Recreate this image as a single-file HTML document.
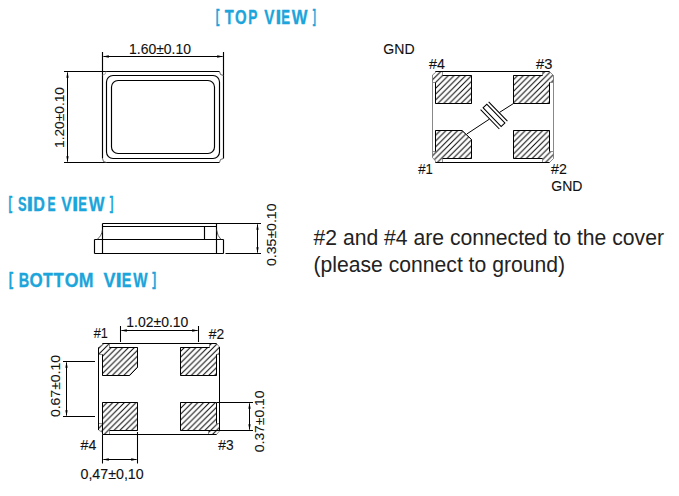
<!DOCTYPE html>
<html><head><meta charset="utf-8">
<style>
html,body{margin:0;padding:0;background:#fff;width:679px;height:496px;overflow:hidden}
svg{display:block}
text{font-family:"Liberation Sans",sans-serif;fill:#111;stroke:#111;stroke-width:0.1}
.n{stroke-width:0;fill:#222}
.t{font-weight:bold;fill:#1ca5db;stroke:#1ca5db;stroke-width:0.3;vector-effect:non-scaling-stroke}
</style></head><body>
<svg width="679" height="496" viewBox="0 0 679 496">
<defs>
<pattern id="hg4" patternUnits="userSpaceOnUse" x="1.9" y="0" width="5.8" height="5.8"><rect width="5.8" height="5.8" fill="#fff"/><path d="M-1,6.8 L6.8,-1 M-1,1 L1,-1 M4.8,6.8 L6.8,4.8" stroke="#000" stroke-width="1"/></pattern>
<pattern id="hg3" patternUnits="userSpaceOnUse" x="1.55" y="0" width="5.8" height="5.8"><rect width="5.8" height="5.8" fill="#fff"/><path d="M-1,6.8 L6.8,-1 M-1,1 L1,-1 M4.8,6.8 L6.8,4.8" stroke="#000" stroke-width="1"/></pattern>
<pattern id="hg1" patternUnits="userSpaceOnUse" x="2.45" y="0" width="5.8" height="5.8"><rect width="5.8" height="5.8" fill="#fff"/><path d="M-1,6.8 L6.8,-1 M-1,1 L1,-1 M4.8,6.8 L6.8,4.8" stroke="#000" stroke-width="1"/></pattern>
<pattern id="hg2" patternUnits="userSpaceOnUse" x="0.4" y="0" width="5.8" height="5.8"><rect width="5.8" height="5.8" fill="#fff"/><path d="M-1,6.8 L6.8,-1 M-1,1 L1,-1 M4.8,6.8 L6.8,4.8" stroke="#000" stroke-width="1"/></pattern>
<pattern id="hb1" patternUnits="userSpaceOnUse" x="0.5" y="0" width="5.8" height="5.8"><rect width="5.8" height="5.8" fill="#fff"/><path d="M-1,6.8 L6.8,-1 M-1,1 L1,-1 M4.8,6.8 L6.8,4.8" stroke="#000" stroke-width="1"/></pattern>
<pattern id="hb2" patternUnits="userSpaceOnUse" x="4.1" y="0" width="5.8" height="5.8"><rect width="5.8" height="5.8" fill="#fff"/><path d="M-1,6.8 L6.8,-1 M-1,1 L1,-1 M4.8,6.8 L6.8,4.8" stroke="#000" stroke-width="1"/></pattern>
<pattern id="hb4" patternUnits="userSpaceOnUse" x="5.05" y="0" width="5.8" height="5.8"><rect width="5.8" height="5.8" fill="#fff"/><path d="M-1,6.8 L6.8,-1 M-1,1 L1,-1 M4.8,6.8 L6.8,4.8" stroke="#000" stroke-width="1"/></pattern>
<pattern id="hb3" patternUnits="userSpaceOnUse" x="3.1" y="0" width="5.8" height="5.8"><rect width="5.8" height="5.8" fill="#fff"/><path d="M-1,6.8 L6.8,-1 M-1,1 L1,-1 M4.8,6.8 L6.8,4.8" stroke="#000" stroke-width="1"/></pattern>
</defs>
<!-- Titles -->
<text class="t" font-size="20.5" transform="translate(215.68,22.41) scale(0.535,0.879)">[</text>
<text class="t" font-size="20.5" transform="translate(224.73,23.6) scale(0.721,1)">T</text>
<text class="t" font-size="20.5" transform="translate(234.89,23.6) scale(0.730,1)">O</text>
<text class="t" font-size="20.5" transform="translate(248.28,23.6) scale(0.672,1)">P</text>
<text class="t" font-size="20.5" transform="translate(264.20,23.6) scale(0.747,1)">V</text>
<text class="t" font-size="20.5" transform="translate(275.61,23.6) scale(1.016,1)">I</text>
<text class="t" font-size="20.5" transform="translate(281.22,23.6) scale(0.643,1)">E</text>
<text class="t" font-size="20.5" transform="translate(291.68,23.6) scale(0.813,1)">W</text>
<text class="t" font-size="20.5" transform="translate(312.78,22.41) scale(0.461,0.879)">]</text>
<text class="t" font-size="20.5" transform="translate(8.58,209.09) scale(0.535,0.884)">[</text>
<text class="t" font-size="20.5" transform="translate(18.03,210.5) scale(0.627,1)">S</text>
<text class="t" font-size="20.5" transform="translate(26.57,210.5) scale(1.185,1)">I</text>
<text class="t" font-size="20.5" transform="translate(33.32,210.5) scale(0.787,1)">D</text>
<text class="t" font-size="20.5" transform="translate(47.39,210.5) scale(0.591,1)">E</text>
<text class="t" font-size="20.5" transform="translate(61.29,210.5) scale(0.777,1)">V</text>
<text class="t" font-size="20.5" transform="translate(72.07,210.5) scale(1.118,1)">I</text>
<text class="t" font-size="20.5" transform="translate(78.23,210.5) scale(0.635,1)">E</text>
<text class="t" font-size="20.5" transform="translate(88.78,210.5) scale(0.813,1)">W</text>
<text class="t" font-size="20.5" transform="translate(109.87,209.09) scale(0.535,0.884)">]</text>
<text class="t" font-size="20.5" transform="translate(8.86,285.25) scale(0.645,0.869)">[</text>
<text class="t" font-size="20.5" transform="translate(18.63,287.0) scale(0.704,1)">B</text>
<text class="t" font-size="20.5" transform="translate(29.50,287.0) scale(0.828,1)">O</text>
<text class="t" font-size="20.5" transform="translate(43.02,287.0) scale(0.779,1)">T</text>
<text class="t" font-size="20.5" transform="translate(53.61,287.0) scale(0.828,1)">T</text>
<text class="t" font-size="20.5" transform="translate(64.87,287.0) scale(0.864,1)">O</text>
<text class="t" font-size="20.5" transform="translate(78.81,287.0) scale(0.865,1)">M</text>
<text class="t" font-size="20.5" transform="translate(103.38,287.0) scale(0.881,1)">V</text>
<text class="t" font-size="20.5" transform="translate(115.47,287.0) scale(1.118,1)">I</text>
<text class="t" font-size="20.5" transform="translate(121.73,287.0) scale(0.704,1)">E</text>
<text class="t" font-size="20.5" transform="translate(133.19,287.0) scale(0.741,1)">W</text>
<text class="t" font-size="20.5" transform="translate(152.26,285.25) scale(0.571,0.869)">]</text>

<g fill="none" stroke="#000" stroke-width="1.15">
<path d="M64,71.5 H219.5 M223.5,52 V158.5 M64,162.5 H219.5 M102.5,52 V158.5"/>
<path d="M219.5,71.5 A4,4 0 0 0 223.5,75.5 M223.5,158.5 A4,4 0 0 0 219.5,162.5 M102.5,158.5 A4,4 0 0 0 106.5,162.5" stroke="#555" stroke-width="0.9"/>
<path d="M106,71.5 A3.5,3.5 0 0 1 102.5,75" stroke="#999" stroke-width="0.8"/>
<rect x="106.5" y="75.5" width="113" height="83" rx="6.5" ry="6.5"/>
<rect x="111.5" y="80.5" width="103" height="73" rx="6.6" ry="6.6"/>
</g>
<path d="M103.5,56.5 H222.5" stroke="#000" stroke-width="1.05" fill="none"/>
<path d="M102.80,56.50 L108.80,55.35 L108.80,57.65z" fill="#000"/>
<path d="M223.20,56.50 L217.20,57.65 L217.20,55.35z" fill="#000"/>
<path d="M67.5,72.5 V161.5" stroke="#000" stroke-width="1.05" fill="none"/>
<path d="M67.50,71.80 L68.65,77.80 L66.35,77.80z" fill="#000"/>
<path d="M67.50,162.20 L66.35,156.20 L68.65,156.20z" fill="#000"/>
<g stroke="#000" stroke-width="1.0" stroke-linejoin="miter">
<path d="M432.5,75 V157.5 M553.5,75.5 V158.5" fill="none" stroke="#888" stroke-width="1"/>
<polygon points="435.5,103.5 435.5,82.5 432.5,82.5 432.5,75 435.5,72.5 435.5,71.5 442.5,71.5 442.5,75.5 471.5,75.5 471.5,103.5" fill="url(#hg4)" stroke="#777" stroke-width="0.8"/>
<polygon points="513.5,75.5 542.5,75.5 542.5,71.5 549.5,71.5 553.5,75.5 553.5,82.5 549.5,82.5 549.5,103.5 513.5,103.5" fill="url(#hg3)" stroke="#777" stroke-width="0.8"/>
<polygon points="435.5,130.5 462,130.5 471.5,139.5 471.5,158.5 442.5,158.5 442.5,162.5 435.5,162.5 435.5,161 432.5,157.5 432.5,151.5 435.5,151.5" fill="url(#hg1)" stroke="#777" stroke-width="0.8"/>
<polygon points="513.5,130.5 549.5,130.5 549.5,151.5 553.5,151.5 553.5,158.5 549.5,162.5 542.5,162.5 542.5,158.5 513.5,158.5" fill="url(#hg2)" stroke="#777" stroke-width="0.8"/>
<path d="M435.5,71.5 H549.5 M435.5,162.5 H549.5 M435.5,82.5 V103.5 H471.5 V75.5 H442.5 M542.5,75.5 H513.5 V103.5 H549.5 V82.5 M435.5,151.5 V130.5 H462 L471.5,139.5 V158.5 H442.5 M549.5,151.5 V130.5 H513.5 V158.5 H542.5" fill="none"/>
<path d="M513.5,103.5 L499.5,112.4 M489.3,119.2 L466.8,134" fill="none" stroke-width="1"/>
<g transform="translate(494,115.4) rotate(46)" fill="none" stroke-width="1.05">
<rect x="-13" y="-2.6" width="26" height="5.2" fill="#fff"/>
<path d="M-13.5,-5.6 H13.5 M-13.5,5.6 H13.5"/>
</g>
</g>
<g fill="none" stroke="#000" stroke-width="1.15">
<path d="M102.5,223.5 H261 M102.5,226.5 H216.5 M94.5,239.5 H223.5 M94.5,253.5 H223.5 M225.5,253.5 H261"/>
<path d="M94.5,239.5 V253.5 M102.5,223.5 V253.5 M204.5,226.5 V239.5 M216.5,223.5 V253.5 M223.5,239.5 V253.5"/>
<path d="M97,239.5 Q101.8,236 102.5,229.5 M216.5,229.5 Q217.3,236 221,239.5" stroke="#333" stroke-width="0.8"/>
</g>
<path d="M257.5,224.5 V252.5" stroke="#000" stroke-width="1.05" fill="none"/>
<path d="M257.50,223.80 L258.65,229.80 L256.35,229.80z" fill="#000"/>
<path d="M257.50,253.20 L256.35,247.20 L258.65,247.20z" fill="#000"/>
<g stroke="#000" stroke-width="1.0">
<polygon points="102.5,375.5 102.5,354.5 98.5,354.5 98.5,347.5 102.5,344.5 102.5,343.5 109.5,343.5 109.5,347.5 137.5,347.5 137.5,367.3 129.6,375.5" fill="url(#hb1)" stroke="#777" stroke-width="0.8"/>
<polygon points="180.5,347.5 209.5,347.5 209.5,343.5 216.5,343.5 219.5,347 219.5,354.5 216.5,354.5 216.5,375.5 180.5,375.5" fill="url(#hb2)" stroke="#777" stroke-width="0.8"/>
<polygon points="102.5,402.5 137.5,402.5 137.5,430.5 109.5,430.5 109.5,434.5 102.5,434.5 102.5,432.5 98.5,430 98.5,423.5 102.5,423.5" fill="url(#hb4)" stroke="#777" stroke-width="0.8"/>
<polygon points="180.5,402.5 216.5,402.5 216.5,423.5 219.5,423.5 219.5,431 216.5,434.5 208.5,434.5 208.5,430.5 180.5,430.5" fill="url(#hb3)" stroke="#777" stroke-width="0.8"/>
<path d="M102.5,343.5 H216.5 M102.5,434.5 H216.5 M98.5,347.5 V430 M219.5,347 V431 M102.5,354.5 V375.5 H129.6 L137.5,367.3 V347.5 H109.5 M209.5,347.5 H180.5 V375.5 H216.5 V354.5 M102.5,402.5 V434.5 M102.5,402.5 H137.5 V430.5 H109.5 M216.5,423.5 V402.5 H180.5 V430.5 H219.5" fill="none"/>
</g>
<g fill="none" stroke="#000" stroke-width="1.05">
<path d="M120.5,326 V342 M198.5,326 V342"/>
<path d="M63,361.5 H95 M63,416.5 H95"/>
<path d="M217,402.5 H253 M217,430.5 H253"/>
<path d="M102.5,435 V463.5 M137.5,432 V463.5"/>
</g>
<path d="M121.5,330.5 H197.5" stroke="#000" stroke-width="1.05" fill="none"/>
<path d="M120.80,330.50 L126.80,329.35 L126.80,331.65z" fill="#000"/>
<path d="M198.20,330.50 L192.20,331.65 L192.20,329.35z" fill="#000"/>
<path d="M66.5,362.5 V415.5" stroke="#000" stroke-width="1.05" fill="none"/>
<path d="M66.50,361.80 L67.65,367.80 L65.35,367.80z" fill="#000"/>
<path d="M66.50,416.20 L65.35,410.20 L67.65,410.20z" fill="#000"/>
<path d="M249.5,403.5 V429.5" stroke="#000" stroke-width="1.05" fill="none"/>
<path d="M249.50,402.80 L250.65,408.80 L248.35,408.80z" fill="#000"/>
<path d="M249.50,430.20 L248.35,424.20 L250.65,424.20z" fill="#000"/>
<path d="M103.5,459.5 H136.5" stroke="#000" stroke-width="1.05" fill="none"/>
<path d="M102.80,459.50 L108.80,458.35 L108.80,460.65z" fill="#000"/>
<path d="M137.20,459.50 L131.20,460.65 L131.20,458.35z" fill="#000"/>

<text x="129" y="54.4" font-size="14.2" textLength="62" lengthAdjust="spacingAndGlyphs">1.60±0.10</text>
<text transform="translate(63.9,148) rotate(-90)" font-size="13.5" textLength="61" lengthAdjust="spacingAndGlyphs">1.20±0.10</text>
<text x="383.3" y="54.4" font-size="14.2" textLength="31.3" lengthAdjust="spacingAndGlyphs">GND</text>
<text x="429" y="68.6" font-size="14.8" textLength="15.8" lengthAdjust="spacingAndGlyphs">#4</text>
<text x="536" y="68.7" font-size="14.8" textLength="16.3" lengthAdjust="spacingAndGlyphs">#3</text>
<text x="418.2" y="173.9" font-size="14.8" textLength="14.6" lengthAdjust="spacingAndGlyphs">#1</text>
<text x="551" y="173.9" font-size="14.8" textLength="15.8" lengthAdjust="spacingAndGlyphs">#2</text>
<text x="551.3" y="190.9" font-size="14.2" textLength="31.2" lengthAdjust="spacingAndGlyphs">GND</text>
<text transform="translate(275.8,266) rotate(-90)" font-size="13.5" textLength="62.5" lengthAdjust="spacingAndGlyphs">0.35±0.10</text>
<text class="n" x="313.5" y="244.6" font-size="22.6" textLength="350.5" lengthAdjust="spacingAndGlyphs">#2 and #4 are connected to the cover</text>
<text class="n" x="313.5" y="272.2" font-size="22.6" textLength="251.5" lengthAdjust="spacingAndGlyphs">(please connect to ground)</text>
<text x="126.3" y="327.0" font-size="14.2" textLength="62" lengthAdjust="spacingAndGlyphs">1.02±0.10</text>
<text transform="translate(59.6,417.1) rotate(-90)" font-size="13.5" textLength="62.2" lengthAdjust="spacingAndGlyphs">0.67±0.10</text>
<text transform="translate(263.6,452.2) rotate(-90)" font-size="13.5" textLength="61.7" lengthAdjust="spacingAndGlyphs">0.37±0.10</text>
<text x="80.5" y="479.0" font-size="14.2" textLength="63.2" lengthAdjust="spacingAndGlyphs">0,47±0,10</text>
<text x="93.7" y="338.3" font-size="14.8" textLength="14.2" lengthAdjust="spacingAndGlyphs">#1</text>
<text x="208.7" y="338.7" font-size="14.8" textLength="15.4" lengthAdjust="spacingAndGlyphs">#2</text>
<text x="80.6" y="450.3" font-size="14.8" textLength="15.7" lengthAdjust="spacingAndGlyphs">#4</text>
<text x="218.3" y="450.2" font-size="14.8" textLength="15.3" lengthAdjust="spacingAndGlyphs">#3</text>

</svg>
</body></html>
